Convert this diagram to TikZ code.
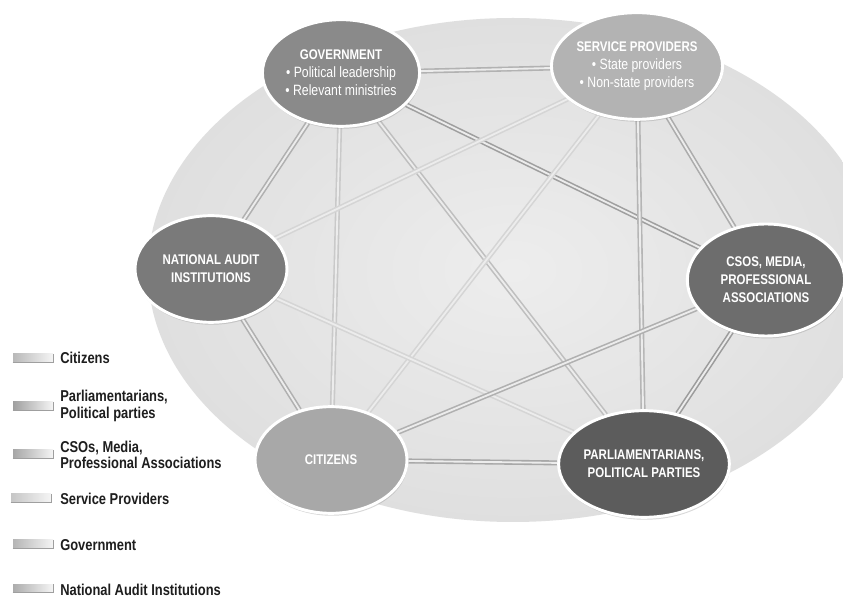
\documentclass[tikz,border=0pt]{standalone}
\usepackage{fontspec}
\setmainfont{Liberation Sans}[FakeStretch=0.82]
\usetikzlibrary{shapes.geometric,shadows,backgrounds}
\definecolor{cgov}{HTML}{8A8A8A}
\definecolor{csp}{HTML}{B3B3B3}
\definecolor{cnai}{HTML}{7A7A7A}
\definecolor{ccso}{HTML}{6D6D6D}
\definecolor{ccit}{HTML}{A8A8A8}
\definecolor{cpar}{HTML}{5C5C5C}
\definecolor{cgap}{HTML}{ECECEC}
\definecolor{clegtext}{HTML}{1E1E1E}
\begin{document}
\begin{tikzpicture}[x=0.75pt,y=-0.75pt,
  stake/.style={ellipse, draw=white, line width=2.2pt, fill=#1, text=white,
    inner sep=0pt, minimum width=114pt, minimum height=80pt, align=center,
    font=\fontsize{11.2}{13.5}\selectfont,
    drop shadow={shadow xshift=0.6pt, shadow yshift=-1.8pt, opacity=0.3}},
  head/.style={font=\fontsize{10.5}{13.5}\selectfont\bfseries},
  conn/.style={draw=#1, line width=1.2pt, double=cgap, double distance=1.4pt},
  swatch/.style={rectangle, inner sep=0pt, minimum width=30pt, minimum height=6pt,
    left color=gray!#1, middle color=gray!#1, right color=gray!8},
  swedge/.style={draw=gray!75, line width=0.7pt},
  legtext/.style={anchor=west, align=left, inner sep=0pt, text=clegtext,
    font=\fontsize{11.8}{12.4}\selectfont\bfseries}
]
\useasboundingbox (0,0) rectangle (843,598);

\begin{pgfonlayer}{background}
  \fill[white] (0,0) rectangle (843,598);
  \node[ellipse, inner sep=0pt, minimum width=547.5pt, minimum height=378pt,
        inner color=gray!14, outer color=gray!25] (bg) at (513,270) {};
\end{pgfonlayer}

% stakeholders
\node[stake=cgov] (gov) at (341,73) {{\fontsize{10.5}{13.5}\selectfont\bfseries GOVERNMENT}\\ • Political leadership\\ • Relevant ministries};
\node[stake=csp]  (sp)  at (637,66) {{\fontsize{10.5}{13.5}\selectfont\bfseries SERVICE PROVIDERS}\\ • State providers\\ • Non-state providers};
\node[stake=cnai, head] (nai) at (211,269) {NATIONAL AUDIT\\ INSTITUTIONS};
\node[stake=ccso, head, minimum width=118pt, minimum height=84pt] (cso) at (766,280) {CSOS, MEDIA,\\ PROFESSIONAL\\ ASSOCIATIONS};
\node[stake=ccit, head] (cit) at (331,460) {CITIZENS};
\node[stake=cpar, head] (par) at (644,464) {PARLIAMENTARIANS,\\ POLITICAL PARTIES};

% connectors
\begin{pgfonlayer}{background}
  \draw[conn=gray!60] (gov) -- (sp);
  \draw[conn=gray!62] (gov) -- (nai);
  \draw[conn=gray!42] (gov) -- (cit);
  \draw[conn=gray!50] (gov) -- (par);
  \draw[conn=gray!75] (gov) -- (cso);
  \draw[conn=gray!33] (sp) -- (nai);
  \draw[conn=gray!33] (sp) -- (cit);
  \draw[conn=gray!65] (sp) -- (cso);
  \draw[conn=gray!58] (sp) -- (par);
  \draw[conn=gray!62] (nai) -- (cit);
  \draw[conn=gray!33] (nai) -- (par);
  \draw[conn=gray!68] (cit) -- (par);
  \draw[conn=gray!62] (cit) -- (cso);
  \draw[conn=gray!78] (cso) -- (par);
\end{pgfonlayer}

% legend
\node[swatch=55] (sw1) at (33,358) {};
\node[swatch=75] (sw2) at (33,406) {};
\node[swatch=70] (sw3) at (33,454) {};
\node[swatch=45] (sw4) at (31,498) {};
\node[swatch=58] (sw5) at (33,544) {};
\node[swatch=65] (sw6) at (33,588) {};
\foreach \s in {sw1,sw2,sw3,sw4,sw5,sw6}
  \draw[swedge] (\s.south west) -- (\s.south east) -- (\s.north east);

\node[legtext] (lg1) at (60,358) {Citizens};
\node[legtext] (lg2) at (60,406) {Parliamentarians,\\Political parties};
\node[legtext] (lg3) at (60,455) {CSOs, Media,\\Professional Associations};
\node[legtext] (lg4) at (60,499) {Service Providers};
\node[legtext] (lg5) at (60,545) {Government};
\node[legtext] (lg6) at (60,590) {National Audit Institutions};
\end{tikzpicture}
\end{document}
